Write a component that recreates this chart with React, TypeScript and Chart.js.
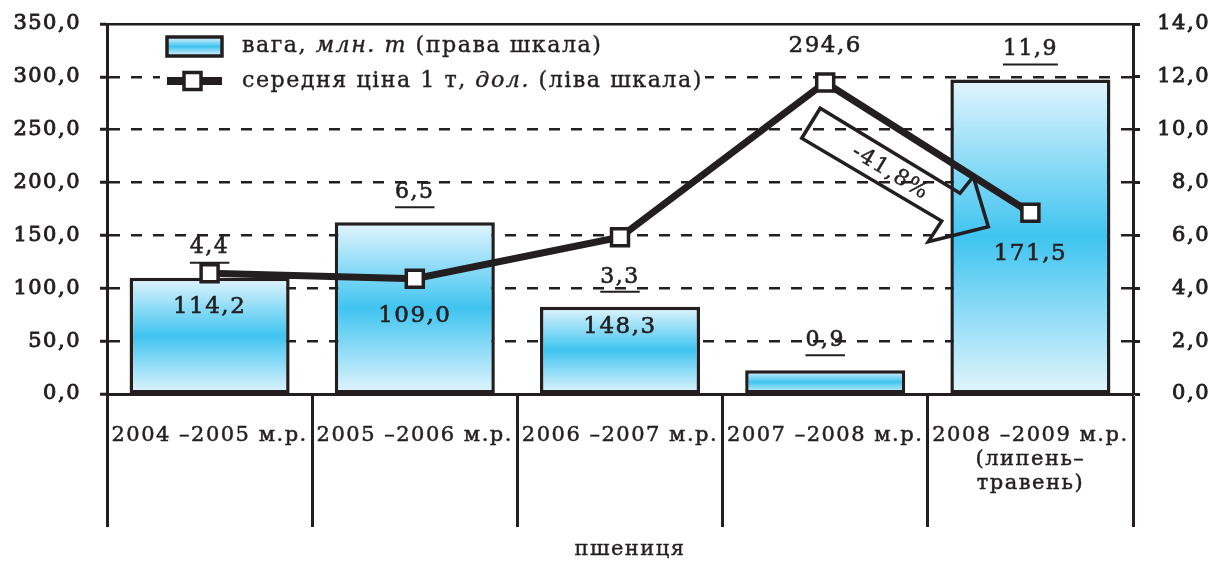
import React, { useEffect, useRef } from 'react';
import { Chart, registerables } from 'chart.js';

Chart.register(...registerables);

// ---------- data ----------
const categories: (string | string[])[] = [
  '2004 –2005 м.р.',
  '2005 –2006 м.р.',
  '2006 –2007 м.р.',
  '2007 –2008 м.р.',
  ['2008 –2009 м.р.', '(липень–', 'травень)'],
];
const weightMt = [4.4, 6.5, 3.3, 0.9, 11.9]; // права шкала
const avgPriceUsd = [114.2, 109.0, 148.3, 294.6, 171.5]; // ліва шкала
const leftTickStep = 50;
const leftMax = 350;
const rightTickStep = 2;
const rightMax = 14;
const xTitle = 'пшениця';
const legendWeight: [string, boolean][] = [['вага, ', false], ['млн. т', true], [' (права шкала)', false]];
const legendPrice: [string, boolean][] = [['середня ціна 1 т, ', false], ['дол.', true], [' (ліва шкала)', false]];

// ---------- style ----------
const INK = '#231f20';
const FONT = '"DejaVu Serif", serif';
const SPACING = '1.5px';
const priceLabelDy = [34, 37, 90, -37, 41];
const calloutPoly = [
  [-5, 25.7], [-23.5, 55.7], [116.5, 138.4], [103.1, 159.1], [163.1, 144.1], [148.1, 94.1], [134.8, 110.7],
];

const fmt = (v: number) => v.toFixed(1).replace('.', ',');

function gradient(c: CanvasRenderingContext2D, top: number, bottom: number) {
  const g = c.createLinearGradient(0, top, 0, bottom);
  g.addColorStop(0, '#e3f5fd');
  g.addColorStop(0.5, '#3fc4f0');
  g.addColorStop(1, '#e3f5fd');
  return g;
}

function barFill(context: any) {
  const chart = context.chart;
  const yR = chart.scales && chart.scales.yR;
  if (!yR || context.type !== 'data') return '#8fd8f5';
  const top = yR.getPixelForValue(context.raw);
  const bottom = yR.getPixelForValue(0);
  if (!isFinite(top) || !isFinite(bottom) || top === bottom) return '#8fd8f5';
  return gradient(chart.ctx, top, bottom);
}

const spacingPlugin = {
  id: 'spacing',
  beforeUpdate(chart: any) { chart.ctx.letterSpacing = SPACING; },
  beforeLayout(chart: any) { chart.ctx.letterSpacing = SPACING; },
  beforeDraw(chart: any) { chart.ctx.letterSpacing = SPACING; },
};

function text(c: CanvasRenderingContext2D, t: string, x: number, y: number, sw = 0.6) {
  c.lineWidth = sw;
  c.strokeText(t, x, y);
  c.fillText(t, x, y);
}

const labelsPlugin = {
  id: 'labels',
  afterDatasetsDraw(chart: any) {
    const c: CanvasRenderingContext2D = chart.ctx;
    c.save();
    c.letterSpacing = SPACING;
    c.fillStyle = INK;
    c.strokeStyle = INK;
    c.textAlign = 'center';
    c.textBaseline = 'middle';
    // bar labels (weight) underlined
    const barMeta = chart.getDatasetMeta(1);
    c.font = `22px ${FONT}`;
    barMeta.data.forEach((el: any, i: number) => {
      const t = fmt(weightMt[i]);
      const y = el.y - 30;
      text(c, t, el.x, y);
      const w = c.measureText(t).width;
      c.lineWidth = 2;
      c.beginPath();
      c.moveTo(el.x - w / 2, y + 15);
      c.lineTo(el.x + w / 2, y + 15);
      c.stroke();
    });
    // price labels
    const lineMeta = chart.getDatasetMeta(0);
    c.font = `23px ${FONT}`;
    lineMeta.data.forEach((el: any, i: number) => {
      text(c, fmt(avgPriceUsd[i]), el.x, el.y + priceLabelDy[i]);
    });
    // callout with change between last two price points
    const p = lineMeta.data[3];
    if (p) {
      c.lineWidth = 3.5;
      c.lineJoin = 'miter';
      c.beginPath();
      calloutPoly.forEach(([dx, dy], k) => {
        if (k === 0) c.moveTo(p.x + dx, p.y + dy);
        else c.lineTo(p.x + dx, p.y + dy);
      });
      c.closePath();
      c.stroke();
      const change = (avgPriceUsd[4] / avgPriceUsd[3] - 1) * 100;
      c.translate(p.x + 65, p.y + 90);
      c.rotate(Math.atan2(0.6, 1));
      c.font = `22px ${FONT}`;
      text(c, fmt(change) + '%', 0, 0, 0.4);
    }
    c.restore();
  },
  afterDraw(chart: any) {
    const c: CanvasRenderingContext2D = chart.ctx;
    const a = chart.chartArea;
    c.save();
    c.letterSpacing = SPACING;
    // legend background
    c.fillStyle = '#ffffff';
    c.fillRect(a.left + 53, a.top + 6, 545, 67);
    // weight swatch
    const bx = a.left + 60, by = a.top + 13, bw = 55, bh = 19;
    c.fillStyle = gradient(c, by, by + bh);
    c.fillRect(bx, by, bw, bh);
    c.strokeStyle = INK;
    c.lineWidth = 3.5;
    c.strokeRect(bx, by, bw, bh);
    // price swatch
    const ly = a.top + 57;
    c.lineWidth = 8;
    c.beginPath();
    c.moveTo(a.left + 60, ly);
    c.lineTo(a.left + 115, ly);
    c.stroke();
    c.fillStyle = '#ffffff';
    c.fillRect(a.left + 77, ly - 8.5, 17, 17);
    c.lineWidth = 3.5;
    c.strokeRect(a.left + 77, ly - 8.5, 17, 17);
    // texts
    c.fillStyle = INK;
    c.textBaseline = 'middle';
    c.textAlign = 'left';
    const drawRich = (parts: [string, boolean][], x: number, y: number) => {
      parts.forEach(([t, it]) => {
        c.font = `${it ? 'italic ' : ''}22.2px ${FONT}`;
        text(c, t, x, y, 0.4);
        x += c.measureText(t).width;
      });
    };
    drawRich(legendWeight, a.left + 135, a.top + 22);
    drawRich(legendPrice, a.left + 135, ly);
    // axis title
    c.textAlign = 'center';
    c.font = `21px ${FONT}`;
    text(c, xTitle, (a.left + a.right) / 2 + 10, 550, 0.4);
    c.restore();
  },
};

const noVPad = (s: any) => { s.paddingTop = 0; s.paddingBottom = 0; };

export default function App() {
  const ref = useRef<HTMLCanvasElement>(null);
  useEffect(() => {
    if (!ref.current) return;
    Chart.defaults.font.family = FONT;
    Chart.defaults.color = INK;
    const chart = new Chart(ref.current, {
      type: 'bar',
      data: {
        labels: categories as any,
        datasets: [
          {
            type: 'line',
            label: 'середня ціна 1 т, дол.',
            data: avgPriceUsd,
            yAxisID: 'yL',
            order: 0,
            borderColor: INK,
            borderWidth: 7,
            borderJoinStyle: 'miter',
            tension: 0,
            pointStyle: 'rect',
            pointRadius: 12,
            pointBackgroundColor: '#ffffff',
            pointBorderColor: INK,
            pointBorderWidth: 3.5,
          } as any,
          {
            type: 'bar',
            label: 'вага, млн. т',
            data: weightMt,
            yAxisID: 'yR',
            order: 1,
            backgroundColor: barFill as any,
            borderColor: INK,
            borderWidth: 3.5,
            borderSkipped: false,
            barPercentage: 0.78,
            categoryPercentage: 1,
          } as any,
        ],
      },
      options: {
        animation: false,
        responsive: true,
        maintainAspectRatio: false,
        layout: { padding: { top: 24, right: 4, left: 0, bottom: 0 } },
        plugins: { legend: { display: false }, tooltip: { enabled: false } },
        scales: {
          x: {
            type: 'category',
            offset: true,
            grid: {
              offset: true,
              drawOnChartArea: false,
              drawTicks: true,
              tickLength: 133,
              tickWidth: 3,
              tickColor: INK,
            },
            border: { display: true, color: INK, width: 3 },
            ticks: {
              color: INK,
              font: { size: 21, lineHeight: 1.15 },
              padding: -104,
              maxRotation: 0,
              autoSkip: false,
              textStrokeColor: INK,
              textStrokeWidth: 0.5,
            },
            afterFit: (s: any) => { s.height = 167; },
          },
          yL: {
            type: 'linear',
            position: 'left',
            min: 0,
            max: leftMax,
            ticks: {
              stepSize: leftTickStep,
              callback: (v: any) => fmt(Number(v)),
              color: INK,
              font: { size: 21 },
              padding: 19,
              textStrokeColor: INK,
              textStrokeWidth: 0.9,
            },
            grid: {
              color: INK,
              lineWidth: 2.5,
              drawTicks: true,
              tickLength: 7,
              tickWidth: 3,
              tickColor: INK,
            },
            border: {
              display: true,
              color: INK,
              width: 3,
              dash: ((ctx: any) => (ctx.tick && (ctx.tick.value === 0 || ctx.tick.value === leftMax) ? [] : [11, 11])) as any,
            },
            afterFit: (s: any) => { s.width = 107; noVPad(s); },
          },
          yR: {
            type: 'linear',
            position: 'right',
            min: 0,
            max: rightMax,
            ticks: {
              stepSize: rightTickStep,
              callback: (v: any) => fmt(Number(v)),
              color: INK,
              font: { size: 21 },
              crossAlign: 'far',
              textStrokeColor: INK,
              textStrokeWidth: 0.9,
            },
            grid: {
              drawOnChartArea: false,
              drawTicks: true,
              tickLength: 7,
              tickWidth: 3,
              tickColor: INK,
            },
            border: { display: true, color: INK, width: 3 },
            afterFit: (s: any) => { s.width = 77; noVPad(s); },
          },
        },
      } as any,
      plugins: [spacingPlugin, labelsPlugin],
    });
    return () => chart.destroy();
  }, []);
  return (
    <div style={{ position: 'fixed', left: 0, top: 0, width: 1214, height: 561, background: '#ffffff' }}>
      <canvas ref={ref} />
    </div>
  );
}
